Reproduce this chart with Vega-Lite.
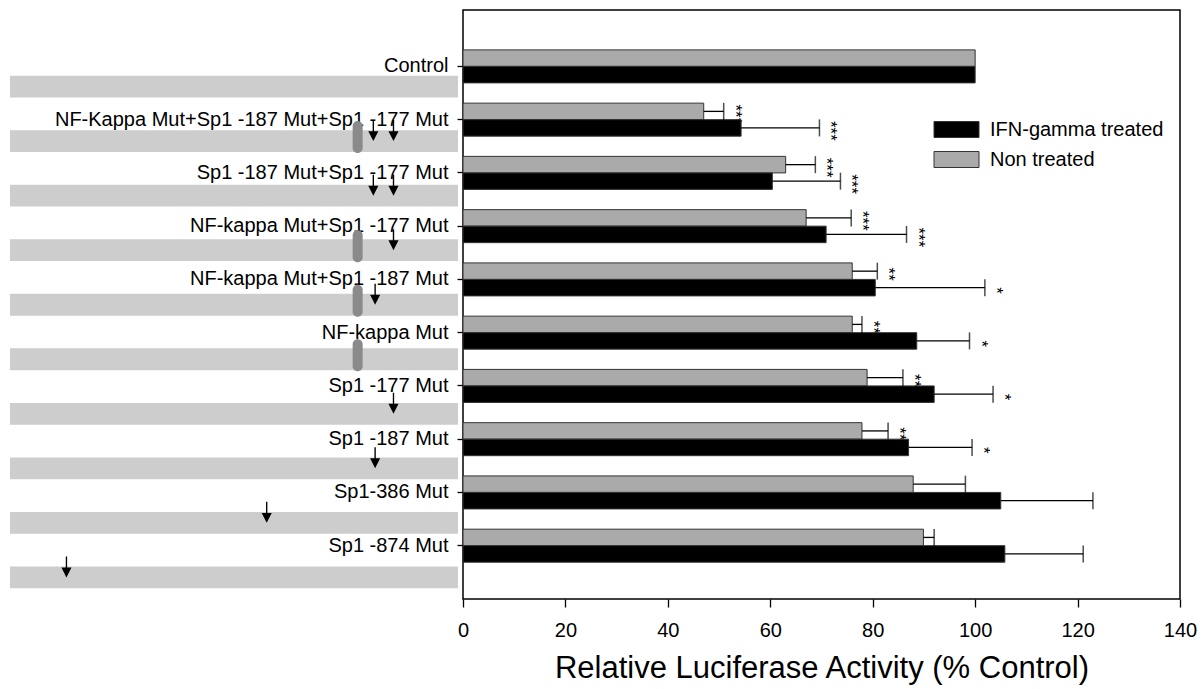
{
  "$schema": "https://vega.github.io/schema/vega-lite/v6.json",
  "width": 717,
  "height": 589,
  "autosize": {"type": "none"},
  "padding": {"left": 463, "top": 10, "right": 24, "bottom": 90},
  "background": "white",
  "config": {
    "font": "Liberation Sans",
    "view": {"stroke": "#000", "strokeWidth": 1.5},
    "axis": {"grid": false}
  },
  "datasets": {
    "bars": [
      {"construct": "Control", "treatment": "Non treated", "value": 100, "upper": null, "sig": null},
      {"construct": "Control", "treatment": "IFN-gamma treated", "value": 100, "upper": null, "sig": null},
      {"construct": "NF-Kappa Mut+Sp1 -187 Mut+Sp1 -177 Mut", "treatment": "Non treated", "value": 47.0, "upper": 50.9, "sig": "***"},
      {"construct": "NF-Kappa Mut+Sp1 -187 Mut+Sp1 -177 Mut", "treatment": "IFN-gamma treated", "value": 54.3, "upper": 69.6, "sig": "***"},
      {"construct": "Sp1 -187 Mut+Sp1 -177 Mut", "treatment": "Non treated", "value": 63.0, "upper": 68.8, "sig": "***"},
      {"construct": "Sp1 -187 Mut+Sp1 -177 Mut", "treatment": "IFN-gamma treated", "value": 60.4, "upper": 73.7, "sig": "***"},
      {"construct": "NF-kappa Mut+Sp1 -177 Mut", "treatment": "Non treated", "value": 67.0, "upper": 75.8, "sig": "***"},
      {"construct": "NF-kappa Mut+Sp1 -177 Mut", "treatment": "IFN-gamma treated", "value": 70.9, "upper": 86.6, "sig": "***"},
      {"construct": "NF-kappa Mut+Sp1 -187 Mut", "treatment": "Non treated", "value": 76.0, "upper": 80.9, "sig": "**"},
      {"construct": "NF-kappa Mut+Sp1 -187 Mut", "treatment": "IFN-gamma treated", "value": 80.5, "upper": 101.9, "sig": "*"},
      {"construct": "NF-kappa Mut", "treatment": "Non treated", "value": 76.0, "upper": 77.9, "sig": "**"},
      {"construct": "NF-kappa Mut", "treatment": "IFN-gamma treated", "value": 88.6, "upper": 98.9, "sig": "*"},
      {"construct": "Sp1 -177 Mut", "treatment": "Non treated", "value": 78.9, "upper": 85.9, "sig": "**"},
      {"construct": "Sp1 -177 Mut", "treatment": "IFN-gamma treated", "value": 92.0, "upper": 103.5, "sig": "*"},
      {"construct": "Sp1 -187 Mut", "treatment": "Non treated", "value": 77.9, "upper": 83.0, "sig": "**"},
      {"construct": "Sp1 -187 Mut", "treatment": "IFN-gamma treated", "value": 87.0, "upper": 99.4, "sig": "*"},
      {"construct": "Sp1-386 Mut", "treatment": "Non treated", "value": 87.9, "upper": 98.1, "sig": null},
      {"construct": "Sp1-386 Mut", "treatment": "IFN-gamma treated", "value": 105.0, "upper": 123.0, "sig": null},
      {"construct": "Sp1 -874 Mut", "treatment": "Non treated", "value": 89.9, "upper": 92.0, "sig": null},
      {"construct": "Sp1 -874 Mut", "treatment": "IFN-gamma treated", "value": 105.8, "upper": 121.1, "sig": null}
    ],
    "constructs": [
      {"construct": "Control"},
      {"construct": "NF-Kappa Mut+Sp1 -187 Mut+Sp1 -177 Mut"},
      {"construct": "Sp1 -187 Mut+Sp1 -177 Mut"},
      {"construct": "NF-kappa Mut+Sp1 -177 Mut"},
      {"construct": "NF-kappa Mut+Sp1 -187 Mut"},
      {"construct": "NF-kappa Mut"},
      {"construct": "Sp1 -177 Mut"},
      {"construct": "Sp1 -187 Mut"},
      {"construct": "Sp1-386 Mut"},
      {"construct": "Sp1 -874 Mut"}
    ],
    "sites": [
      {"construct": "NF-Kappa Mut+Sp1 -187 Mut+Sp1 -177 Mut", "site": "NF-kappa", "pos": -224},
      {"construct": "NF-Kappa Mut+Sp1 -187 Mut+Sp1 -177 Mut", "site": "Sp1", "pos": -189},
      {"construct": "NF-Kappa Mut+Sp1 -187 Mut+Sp1 -177 Mut", "site": "Sp1", "pos": -144},
      {"construct": "Sp1 -187 Mut+Sp1 -177 Mut", "site": "Sp1", "pos": -189},
      {"construct": "Sp1 -187 Mut+Sp1 -177 Mut", "site": "Sp1", "pos": -144},
      {"construct": "NF-kappa Mut+Sp1 -177 Mut", "site": "NF-kappa", "pos": -224},
      {"construct": "NF-kappa Mut+Sp1 -177 Mut", "site": "Sp1", "pos": -144},
      {"construct": "NF-kappa Mut+Sp1 -187 Mut", "site": "NF-kappa", "pos": -224},
      {"construct": "NF-kappa Mut+Sp1 -187 Mut", "site": "Sp1", "pos": -185},
      {"construct": "NF-kappa Mut", "site": "NF-kappa", "pos": -224},
      {"construct": "Sp1 -177 Mut", "site": "Sp1", "pos": -144},
      {"construct": "Sp1 -187 Mut", "site": "Sp1", "pos": -185},
      {"construct": "Sp1-386 Mut", "site": "Sp1", "pos": -427},
      {"construct": "Sp1 -874 Mut", "site": "Sp1", "pos": -874}
    ]
  },
  "layer": [
    {
      "data": {"name": "bars"},
      "encoding": {
        "y": {
          "field": "construct", "type": "nominal",
          "scale": {
            "domain": ["Control", "NF-Kappa Mut+Sp1 -187 Mut+Sp1 -177 Mut", "Sp1 -187 Mut+Sp1 -177 Mut", "NF-kappa Mut+Sp1 -177 Mut", "NF-kappa Mut+Sp1 -187 Mut", "NF-kappa Mut", "Sp1 -177 Mut", "Sp1 -187 Mut", "Sp1-386 Mut", "Sp1 -874 Mut"],
            "paddingInner": 0.38, "paddingOuter": 0.72, "align": 0.52
          },
          "axis": {
            "title": null, "domain": false, "tickSize": 6, "tickColor": "#000", "tickWidth": 1.3,
            "labelFontSize": 20, "labelColor": "#000", "labelPadding": 9, "labelLimit": 700
          }
        },
        "yOffset": {
          "field": "treatment", "type": "nominal",
          "scale": {"domain": ["Non treated", "IFN-gamma treated"], "paddingInner": 0, "paddingOuter": 0}
        }
      },
      "layer": [
        {
          "transform": [{"filter": "datum.sig != null"}],
          "mark": {"type": "text", "angle": 90, "align": "center", "baseline": "middle", "fontSize": 17, "dy": -11, "dx": 3, "color": "#000"},
          "encoding": {
            "x": {"field": "upper", "type": "quantitative"},
            "text": {"field": "sig"}
          }
        },
        {
          "mark": {"type": "bar", "stroke": "#333", "strokeWidth": 1},
          "encoding": {
            "x": {
              "field": "value", "type": "quantitative",
              "scale": {"domain": [0, 140], "nice": false},
              "axis": {
                "values": [0, 20, 40, 60, 80, 100, 120, 140], "domain": false,
                "tickSize": 8, "tickColor": "#000", "tickWidth": 1.3,
                "labelFontSize": 20, "labelColor": "#000", "labelPadding": 13, "labelFlush": false,
                "title": "Relative Luciferase Activity (% Control)", "titleFontSize": 31,
                "titleFontWeight": "normal", "titleColor": "#000", "titlePadding": 13
              }
            },
            "color": {
              "field": "treatment", "type": "nominal",
              "scale": {"domain": ["IFN-gamma treated", "Non treated"], "range": ["#000000", "#aaaaaa"]},
              "legend": {
                "title": null, "orient": "none", "legendX": 483, "legendY": 109,
                "padding": 0, "symbolType": "M-2.25,-0.8 L2.25,-0.8 L2.25,0.8 L-2.25,0.8 Z",
                "symbolSize": 400, "symbolStrokeColor": "#333", "symbolStrokeWidth": 1,
                "labelFontSize": 20, "labelColor": "#000", "labelOffset": 23, "rowPadding": 9,
                "labelLimit": 400
              }
            }
          }
        },
        {
          "transform": [{"filter": "datum.upper != null"}],
          "mark": {"type": "rule", "color": "#000", "strokeWidth": 1.3},
          "encoding": {
            "x": {"field": "value", "type": "quantitative"},
            "x2": {"field": "upper"}
          }
        },
        {
          "transform": [{"filter": "datum.upper != null"}],
          "mark": {"type": "tick", "color": "#000", "thickness": 1.5, "size": 17, "orient": "vertical"},
          "encoding": {
            "x": {"field": "upper", "type": "quantitative"}
          }
        }
      ]
    },
    {
      "encoding": {
        "y": {
          "field": "construct", "type": "nominal",
          "scale": {
            "domain": ["Control", "NF-Kappa Mut+Sp1 -187 Mut+Sp1 -177 Mut", "Sp1 -187 Mut+Sp1 -177 Mut", "NF-kappa Mut+Sp1 -177 Mut", "NF-kappa Mut+Sp1 -187 Mut", "NF-kappa Mut", "Sp1 -177 Mut", "Sp1 -187 Mut", "Sp1-386 Mut", "Sp1 -874 Mut"],
            "paddingInner": 0.6, "paddingOuter": 0.7, "align": 0.86
          },
          "axis": null
        }
      },
      "layer": [
        {
          "data": {"name": "constructs"},
          "mark": {"type": "bar", "color": "#cdcdcd"},
          "encoding": {
            "x": {"datum": -1000, "type": "quantitative", "scale": {"domain": [-1000, 0], "range": [-453, -5], "nice": false, "zero": false}, "axis": null},
            "x2": {"datum": 0}
          }
        },
        {
          "data": {"name": "sites"},
          "transform": [{"filter": "datum.site == 'NF-kappa'"}],
          "mark": {"type": "point", "filled": true, "opacity": 1, "color": "#8a8a8a", "size": 1024, "yOffset": -4,
            "shape": "M-0.3125,-0.6875 C-0.3125,-0.86 -0.1726,-1 0,-1 C0.1726,-1 0.3125,-0.86 0.3125,-0.6875 L0.3125,0.6875 C0.3125,0.86 0.1726,1 0,1 C-0.1726,1 -0.3125,0.86 -0.3125,0.6875 Z"},
          "encoding": {
            "x": {"field": "pos", "type": "quantitative", "scale": {"domain": [-1000, 0], "range": [-453, -5], "nice": false, "zero": false}, "axis": null}
          }
        },
        {
          "data": {"name": "sites"},
          "transform": [{"filter": "datum.site == 'Sp1'"}],
          "mark": {"type": "point", "filled": true, "opacity": 1, "color": "#000", "size": 441, "yOffset": -10.5,
            "shape": "M-0.065,-1 L0.065,-1 L0.065,0.05 L0.48,0.05 L0,1 L-0.48,0.05 L-0.065,0.05 Z"},
          "encoding": {
            "x": {"field": "pos", "type": "quantitative", "scale": {"domain": [-1000, 0], "range": [-453, -5], "nice": false, "zero": false}, "axis": null}
          }
        }
      ]
    }
  ],
  "resolve": {"scale": {"x": "independent", "y": "independent"}}
}
